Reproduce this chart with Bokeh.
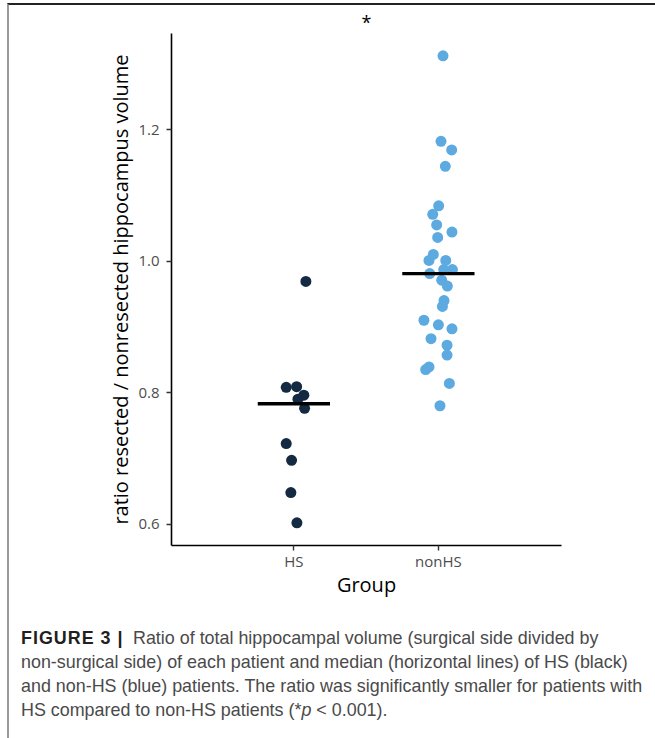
import numpy as np
from bokeh.plotting import figure
from bokeh.layouts import column
from bokeh.models import Range1d, FixedTicker, Div
from bokeh.embed import file_html
from bokeh.resources import INLINE

# ---------------- data ----------------
groups = ["HS", "nonHS"]
hs_ratio = [0.969, 0.808, 0.809, 0.796, 0.790, 0.776, 0.7225, 0.697, 0.648, 0.602]
hs_jitter = [0.083, -0.053, 0.019, 0.069, 0.028, 0.074, -0.053, -0.016, -0.021, 0.021]
nonhs_ratio = [1.312, 1.182, 1.169, 1.144, 1.084, 1.071, 1.055, 1.044, 1.036, 1.010,
               1.001, 1.001, 0.987, 0.987, 0.981, 0.971, 0.962, 0.940, 0.931, 0.910,
               0.903, 0.897, 0.882, 0.872, 0.857, 0.839, 0.835, 0.814, 0.780]
nonhs_jitter = [0.032, 0.018, 0.092, 0.048, 0.002, -0.039, -0.012, 0.094, -0.005, -0.035,
                -0.065, 0.051, 0.097, 0.037, -0.060, 0.023, 0.062, 0.039, 0.028, -0.100,
                0.0, 0.094, -0.051, 0.060, 0.060, -0.065, -0.088, 0.076, 0.011]
y_ticks = [0.6, 0.8, 1.0, 1.2]
y_tick_labels = ["0.6", "0.8", "1.0", "1.2"]
x_label = "Group"
y_label = "ratio resected / nonresected hippocampus volume"
signif = "*"
caption_lines = [
    "Ratio of total hippocampal volume (surgical side divided by",
    "non-surgical side) of each patient and median (horizontal lines) of HS (black)",
    "and non-HS (blue) patients. The ratio was significantly smaller for patients with",
    "HS compared to non-HS patients (*",
]

HS_COLOR = "#142a42"
NONHS_COLOR = "#5daae0"
FONT = "Open Sans"
CAP_FONT = "Liberation Sans"

p = figure(width=646, height=610,
           x_range=Range1d(0.153, 2.852), y_range=Range1d(0.5675, 1.346),
           output_backend="svg", toolbar_location=None,
           min_border_left=162, min_border_right=94,
           min_border_top=28, min_border_bottom=70)
p.background_fill_color = "white"
p.border_fill_color = "white"
p.outline_line_color = None
p.xgrid.visible = False
p.ygrid.visible = False

# title (significance asterisk)
p.title.text = signif
p.title.align = "center"
p.title.offset = -4
p.title.text_font = FONT
p.title.text_font_size = "18px"
p.title.text_font_style = "normal"
p.title.text_color = "black"
p.title.standoff = 0
p.title.text_line_height = 0.5

# points
pos = {g: i + 1 for i, g in enumerate(groups)}
hs_x = [pos["HS"] + j for j in hs_jitter]
nonhs_x = [pos["nonHS"] + j for j in nonhs_jitter]
p.scatter(hs_x, hs_ratio, size=11, fill_color=HS_COLOR, line_color=None)
p.scatter(nonhs_x, nonhs_ratio, size=11, fill_color=NONHS_COLOR, line_color=None)

# medians
for g, vals in (("HS", hs_ratio), ("nonHS", nonhs_ratio)):
    m = float(np.median(vals))
    p.segment(x0=[pos[g] - 0.25], x1=[pos[g] + 0.25], y0=[m], y1=[m],
              line_color="black", line_width=3.3)

# axes
for ax in (p.xaxis[0], p.yaxis[0]):
    ax.axis_line_color = "black"
    ax.axis_line_width = 1.6
    ax.major_tick_line_color = "#333333"
    ax.major_tick_line_width = 1.4
    ax.major_tick_out = 5
    ax.major_tick_in = 0
    ax.minor_tick_line_color = None
    ax.major_label_text_font = FONT
    ax.major_label_text_font_size = "15px"
    ax.major_label_text_color = "#4d4d4d"
    ax.axis_label_text_font = FONT
    ax.axis_label_text_font_size = "20px"
    ax.axis_label_text_font_style = "normal"
    ax.axis_label_text_color = "black"

p.xaxis.ticker = FixedTicker(ticks=[pos[g] for g in groups])
p.xaxis.major_label_overrides = {pos[g]: g for g in groups}
p.xaxis.axis_label = x_label
p.xaxis.major_label_standoff = 0
p.xaxis.axis_label_standoff = -3
p.yaxis.ticker = FixedTicker(ticks=y_ticks)
p.yaxis.major_label_overrides = {t: s for t, s in zip(y_ticks, y_tick_labels)}
p.yaxis.axis_label = y_label
p.yaxis.major_label_standoff = 7
p.yaxis.axis_label_standoff = 1

# caption
cap_html = ('<span style="display:inline-block;width:112px;font-weight:bold;'
            'letter-spacing:1px;color:#231f20">FIGURE 3 |</span>'
            + caption_lines[0] + "<br>" + caption_lines[1] + "<br>"
            + caption_lines[2] + "<br>" + caption_lines[3]
            + '<i>p</i> &lt; 0.001).')
caption = Div(text=cap_html, width=646, height=121,
              styles={"font-family": CAP_FONT, "font-size": "17.9px",
                      "line-height": "24px", "color": "#4a4a4a",
                      "padding-left": "7px", "padding-top": "6px",
                      "box-sizing": "border-box", "white-space": "nowrap"})

layout = column(p, caption, spacing=0,
                styles={"border-top": "2px solid #222222",
                        "border-left": "2px solid #9a9a9a",
                        "margin-left": "7px", "margin-top": "3px"})

open("out.html", "w").write(file_html(layout, INLINE))
